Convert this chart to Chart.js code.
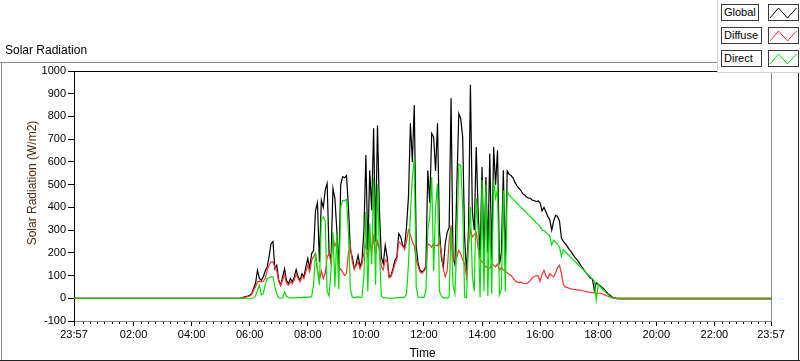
<!DOCTYPE html>
<html>
<head>
<meta charset="utf-8">
<script src="https://cdn.jsdelivr.net/npm/chart.js@4.4.1/dist/chart.umd.min.js"></script>
<style>
  body { margin: 0; background: #fff; }
  #wrap { position: relative; width: 800px; height: 361px; overflow: hidden; font-family: 'Liberation Sans', Arial, sans-serif; }
  canvas { position: absolute; left: 0; top: 0; }
  .txt { position: absolute; white-space: nowrap; color: #000; }
  #title { left: 5px; top: 43px; font-size: 12px; }
  #ytitle { left: 32px; top: 183px; font-size: 12px; color: #4a2c0c; transform: translate(-50%, -50%) rotate(-90deg); }
  .line { position: absolute; }
  #legend { position: absolute; left: 717px; top: 0; width: 83px; height: 72px; border-left: 1px solid #d4d4d4; border-bottom: 1px solid #d4d4d4; background: #fff; }
  .lbl { position: absolute; left: 3px; height: 17px; border: 1px solid #3c3c3c; font-size: 11px; line-height: 15px; padding-left: 2px; box-sizing: border-box; }
  .ico { position: absolute; left: 50px; }
</style>
</head>
<body>
<div id="wrap">
  <canvas id="chart" width="800" height="361"></canvas>
  <div class="line" style="left:0;top:62px;width:717px;height:1px;background:#8c8c8c"></div>
  <div class="line" style="left:1px;top:62px;width:1px;height:299px;background:#8c8c8c"></div>
  <div class="line" style="left:798px;top:73px;width:1px;height:288px;background:#222"></div>
  <div class="line" style="left:0;top:360px;width:800px;height:1px;background:#222"></div>
  <div id="title" class="txt">Solar Radiation</div>
  <div id="ytitle" class="txt">Solar Radiation (W/m2)</div>
  <div id="legend"></div>
</div>
<script>
// sample times: every 4 min from 05:40 to 18:48 (minutes after midnight)
const START_MIN = 340;
const STEP_MIN = 4;
const X_MIN = -3;    // 23:57 of the previous day
const X_MAX = 1437;  // 23:57

// one row per hour (05:40-05:56 first, then :00, :04 ... :56)
const globalRad = [
  0, 2, 5, 8, 10,
  13, 20, 43, 65, 123, 87, 79, 94, 120, 138, 182, 240, 250, 130, 145,
  79, 57, 94, 130, 79, 65, 87, 72, 94, 126, 94, 79, 108, 94, 138,
  175, 130, 197, 211, 387, 420, 160, 431, 400, 476, 505, 200, 170, 484, 440,
  300, 130, 500, 535, 530, 540, 400, 211, 181, 130, 152, 189, 138, 167, 300,
  630, 211, 563, 387, 748, 250, 760, 387, 181, 152, 233, 181, 94, 101, 130,
  167, 181, 284, 270, 233, 226, 314, 446, 770, 600, 850, 230, 152, 123, 116,
  123, 140, 563, 420, 725, 710, 560, 770, 300, 181, 135, 240, 290, 310, 880,
  180, 150, 500, 813, 790, 710, 270, 110, 300, 940, 380, 300, 666, 380, 181,
  578, 165, 534, 200, 637, 170, 666, 500, 651, 150, 200, 563, 150, 560, 545,
  540, 530, 510, 495, 485, 475, 460, 455, 445, 440, 440, 432, 430, 425, 428,
  420, 385, 400, 380, 360, 345, 300, 340, 365, 360, 340, 265, 250, 240, 228,
  215, 205, 192, 180, 170, 158, 145, 133, 120, 110, 98, 88, 85, 35, 68,
  62, 55, 48, 40, 30, 20, 14, 7, 2, 1, 0, 0, 0
];
const diffuseRad = [
  0, 1, 3, 5, 7,
  10, 16, 35, 50, 72, 75, 72, 75, 87, 123, 145, 160, 160, 138, 120,
  72, 57, 80, 105, 65, 57, 72, 65, 80, 108, 87, 72, 94, 87, 116,
  145, 116, 167, 182, 197, 123, 79, 120, 87, 108, 182, 197, 152, 270, 230,
  250, 120, 130, 115, 100, 110, 200, 230, 160, 130, 145, 160, 130, 150, 200,
  240, 180, 250, 200, 270, 190, 250, 210, 140, 125, 170, 160, 90, 95, 120,
  150, 170, 250, 240, 230, 215, 250, 300, 280, 250, 230, 170, 140, 115, 110,
  120, 130, 240, 235, 225, 240, 232, 232, 250, 200, 130, 94, 120, 250, 321,
  175, 165, 181, 211, 196, 170, 150, 94, 235, 300, 270, 280, 290, 220, 170,
  160, 150, 138, 135, 132, 150, 145, 138, 150, 123, 135, 125, 120, 113, 105,
  100, 90, 78, 72, 68, 72, 66, 65, 64, 70, 79, 90, 96, 100, 98,
  75, 105, 123, 98, 87, 108, 100, 94, 112, 135, 145, 110, 60, 50, 47,
  44, 41, 39, 38, 37, 36, 36, 33, 31, 29, 27, 26, 25, 24, 23,
  22, 22, 20, 16, 12, 9, 6, 4, 2, 0, -4, -4, -4
];
const directRad = [
  0, 0, 0, 0, 0,
  0, 0, 2, 10, 35, 57, 15, 20, 60, 87, 90, 94, 94, 50, 20,
  2, 0, 0, 28, 10, 3, 2, 2, 2, 3, 3, 3, 3, 5, 4,
  5, 5, 8, 60, 200, 123, 60, 350, 357, 340, 30, 10, 120, 290, 50,
  280, 40, 400, 430, 430, 435, 290, 40, 5, 3, 3, 8, 3, 5, 100,
  380, 30, 330, 150, 530, 60, 500, 200, 10, 3, 2, 2, 0, 0, 0,
  2, 3, 3, 3, 3, 5, 20, 150, 370, 530, 615, 50, 5, 4, 4,
  4, 30, 300, 358, 534, 120, 400, 505, 30, 10, 2, 2, 2, 5, 315,
  60, 20, 250, 590, 585, 400, 5, 3, 250, 402, 100, 30, 440, 300, 5,
  520, 30, 500, 10, 387, 20, 520, 440, 480, 15, 40, 475, 30, 470, 455,
  445, 436, 428, 419, 411, 402, 393, 385, 376, 368, 359, 350, 342, 333, 325,
  316, 300, 299, 290, 282, 273, 235, 256, 247, 239, 225, 185, 213, 205, 196,
  188, 179, 170, 162, 153, 145, 136, 128, 119, 110, 102, 93, 85, 76, -8,
  60, 51, 42, 34, 25, 17, 8, 2, 0, 0, 0, 0, 0
];
// level before sunrise / after sunset
const nightStart = { global: 0, diffuse: 0, direct: 0 };
const nightEnd = { global: 0, diffuse: -4, direct: 0 };

const xTickValues = [-3, 120, 240, 360, 480, 600, 720, 840, 960, 1080, 1200, 1320, 1437];
const xTickLabels = ['23:57', '02:00', '04:00', '06:00', '08:00', '10:00', '12:00',
  '14:00', '16:00', '18:00', '20:00', '22:00', '23:57'];

const minorTicks = [];
for (let m = 15; m < X_MAX; m += 15) {
  if (m % 120 !== 0 && m < 1430) minorTicks.push(m);
}

function toPoints(values, key) {
  const pts = [{ x: X_MIN, y: nightStart[key] }];
  values.forEach((v, i) => pts.push({ x: START_MIN + i * STEP_MIN, y: v }));
  pts.push({ x: X_MAX, y: nightEnd[key] });
  return pts;
}

const FONT = "'Liberation Sans', Arial, sans-serif";

const series = [
  { name: 'Global', key: 'global', values: globalRad, color: '#000000', order: 3 },
  { name: 'Diffuse', key: 'diffuse', values: diffuseRad, color: '#ff3030', order: 2 },
  { name: 'Direct', key: 'direct', values: directRad, color: '#00e000', order: 1 },
];

// html legend
const legend = document.getElementById('legend');
series.forEach((s, i) => {
  const top = 4 + i * 23;
  legend.insertAdjacentHTML('beforeend', `
    <div class="lbl txt" style="top:${top}px;width:${i === 0 ? 38 : 41}px">${s.name}</div>
    <svg class="ico" style="top:${top}px" width="31" height="17">
      <rect x="0.5" y="0.5" width="30" height="16" fill="#fff" stroke="#3c3c3c"/>
      <polyline points="2,14 10.5,4 19.5,14 28.5,4" fill="none" stroke="${s.color}" stroke-width="1"/>
    </svg>`);
});

const plotFrame = {
  id: 'plotFrame',
  afterDraw(chart) {
    const { ctx, chartArea: a } = chart;
    const x = chart.scales.x;
    ctx.save();
    ctx.lineWidth = 1;
    ctx.strokeStyle = '#000';
    ctx.beginPath();
    ctx.moveTo(a.left, a.top + 0.5);
    ctx.lineTo(a.right + 1, a.top + 0.5);
    ctx.stroke();
    ctx.strokeStyle = '#8a8a8a';
    ctx.beginPath();
    ctx.moveTo(a.right + 0.5, a.top);
    ctx.lineTo(a.right + 0.5, a.bottom);
    ctx.stroke();
    ctx.strokeStyle = '#000';
    ctx.beginPath();
    minorTicks.forEach((v) => {
      const p = Math.round(x.getPixelForValue(v)) + 0.5;
      ctx.moveTo(p, a.bottom + 1);
      ctx.lineTo(p, a.bottom + 3);
    });
    ctx.stroke();
    ctx.restore();
  },
};

const ctx = document.getElementById('chart').getContext('2d');
new Chart(ctx, {
  type: 'line',
  data: {
    datasets: series.map((s) => ({
      label: s.name,
      data: toPoints(s.values, s.key),
      borderColor: s.color,
      borderWidth: 1.2,
      pointRadius: 0,
      tension: 0,
      fill: false,
      order: s.order,
    })),
  },
  options: {
    responsive: false,
    animation: false,
    events: [],
    devicePixelRatio: 1,
    layout: { padding: { left: 0, top: 71, right: 29, bottom: 0 } },
    plugins: {
      legend: { display: false },
      tooltip: { enabled: false },
    },
    scales: {
      x: {
        type: 'linear',
        min: X_MIN,
        max: X_MAX,
        afterBuildTicks: (scale) => { scale.ticks = xTickValues.map((v) => ({ value: v })); },
        afterFit: (scale) => { scale.height = 40; },
        ticks: {
          autoSkip: false,
          maxRotation: 0,
          padding: 2,
          color: '#000',
          font: { family: FONT, size: 11 },
          callback: (v) => xTickLabels[xTickValues.indexOf(v)],
        },
        grid: { drawOnChartArea: false, tickLength: 5, tickColor: '#000' },
        border: { color: '#8a8a8a' },
        title: {
          display: true,
          text: 'Time',
          color: '#000',
          font: { family: FONT, size: 12 },
          padding: { top: 0, bottom: 0 },
        },
      },
      y: {
        min: -100,
        max: 1000,
        afterFit: (scale) => { scale.width = 74; },
        ticks: {
          stepSize: 100,
          padding: 2,
          color: '#000',
          font: { family: FONT, size: 11 },
          callback: (v) => String(v),
        },
        grid: { drawOnChartArea: false, tickLength: 6, tickColor: '#000' },
        border: { color: '#000' },
      },
    },
  },
  plugins: [plotFrame],
});
</script>
</body>
</html>
